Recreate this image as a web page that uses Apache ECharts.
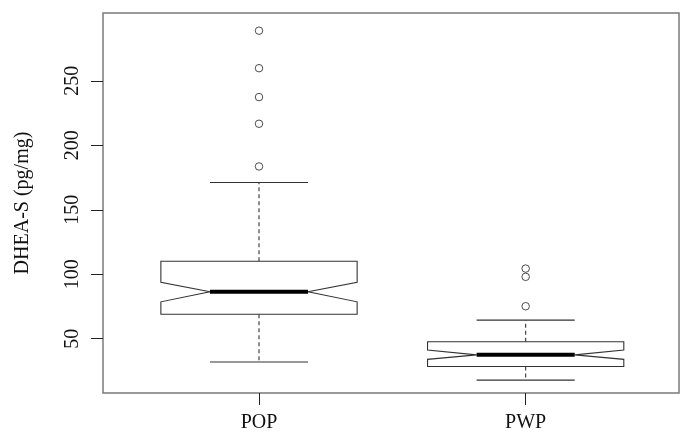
<!DOCTYPE html>
<html>
<head>
<meta charset="utf-8">
<script src="https://cdn.jsdelivr.net/npm/echarts@6/dist/echarts.min.js"></script>
<style>
html,body{margin:0;padding:0;background:#fff;}
#chart{width:686px;height:435px;}
</style>
</head>
<body>
<div id="chart"></div>
<script>
// ---- data ----
const categories = ['POP', 'PWP'];
const positions = [1, 2];
const lowerWhisker = [31.9, 17.9];
const q1 = [69.0, 28.4];
const notchLow = [78.6, 34.0];
const median = [86.4, 37.5];
const notchHigh = [93.8, 41.2];
const q3 = [110.1, 47.6];
const upperWhisker = [171.2, 64.4];
const outliersPOP = [183.6, 216.7, 237.4, 259.8, 288.9];
const outliersPWP = [75.2, 98.0, 104.4];
const yTicks = [50, 100, 150, 200, 250];

const boxData = positions.map((p, i) => [p, lowerWhisker[i], q1[i], notchLow[i], median[i], notchHigh[i], q3[i], upperWhisker[i]]);
const outlierData = outliersPOP.map(v => [1, v]).concat(outliersPWP.map(v => [2, v]));

const HW = 0.368; // box half width in x units
const lineColor = '#333';
const serif = 'Liberation Serif';

const chart = echarts.init(document.getElementById('chart'), null, {renderer: 'canvas'});
chart.setOption({
  animation: false,
  backgroundColor: '#fff',
  grid: {
    left: 103, top: 13, width: 576, height: 380,
    show: true, borderColor: '#7a7a7a', borderWidth: 1.5, backgroundColor: 'transparent'
  },
  xAxis: {
    type: 'value', min: 0.415, max: 2.575,
    splitLine: {show: false},
    axisLine: {show: false},
    axisTick: {show: true, customValues: positions, length: 12, lineStyle: {color: '#222', width: 1}},
    axisLabel: {
      customValues: positions, margin: 20,
      formatter: v => categories[Math.round(v) - 1] || '',
      fontFamily: serif, fontSize: 20, color: '#111'
    }
  },
  yAxis: {
    type: 'value', min: 7.9, max: 302.6,
    name: 'DHEA-S (pg/mg)', nameLocation: 'middle', nameRotate: 90, nameGap: 70,
    nameTextStyle: {fontFamily: serif, fontSize: 20, color: '#111'},
    splitLine: {show: false},
    axisLine: {show: false},
    axisTick: {show: true, customValues: yTicks, length: 12, lineStyle: {color: '#222', width: 1}},
    axisLabel: {
      customValues: yTicks, rotate: 90, margin: 20,
      fontFamily: serif, fontSize: 20, color: '#111'
    }
  },
  series: [
    {
      type: 'custom',
      data: boxData,
      encode: {x: 0, y: [1, 2, 3, 4, 5, 6, 7]},
      renderItem: function (params, api) {
        const x = api.value(0);
        const lw = api.value(1), a = api.value(2), nl = api.value(3), md = api.value(4),
              nh = api.value(5), b = api.value(6), uw = api.value(7);
        const c = (xx, yy) => api.coord([xx, yy]);
        const pts = [
          c(x - HW, b), c(x + HW, b), c(x + HW, nh), c(x + HW / 2, md), c(x + HW, nl),
          c(x + HW, a), c(x - HW, a), c(x - HW, nl), c(x - HW / 2, md), c(x - HW, nh)
        ];
        const ln = (p1, p2, style) => ({type: 'line', shape: {x1: p1[0], y1: p1[1], x2: p2[0], y2: p2[1]}, style: style});
        const thin = {stroke: lineColor, lineWidth: 1.1};
        const dashed = {stroke: lineColor, lineWidth: 1.1, lineDash: [4, 3]};
        return {
          type: 'group',
          children: [
            ln(c(x, b), c(x, uw), dashed),
            ln(c(x, a), c(x, lw), dashed),
            ln(c(x - HW / 2, uw), c(x + HW / 2, uw), thin),
            ln(c(x - HW / 2, lw), c(x + HW / 2, lw), thin),
            {type: 'polygon', shape: {points: pts}, style: {fill: '#fff', stroke: lineColor, lineWidth: 1.1}},
            ln(c(x - HW / 2, md), c(x + HW / 2, md), {stroke: '#000', lineWidth: 4})
          ]
        };
      }
    },
    {
      type: 'scatter',
      data: outlierData,
      symbol: 'circle',
      symbolSize: 7.5,
      itemStyle: {color: '#fff', borderColor: '#222', borderWidth: 1}
    }
  ]
});
</script>
</body>
</html>
